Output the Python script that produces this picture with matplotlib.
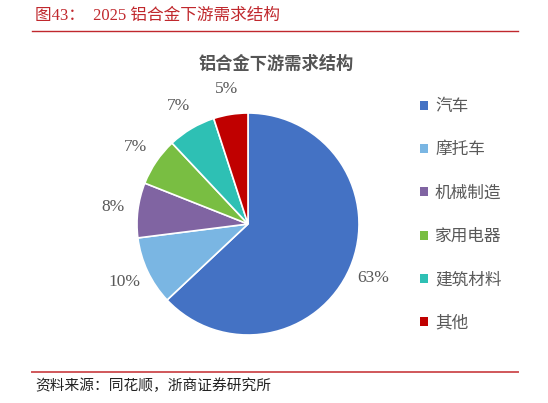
import matplotlib
matplotlib.use("Agg")
import matplotlib.pyplot as plt
from matplotlib.patches import Patch
from matplotlib.lines import Line2D

categories = ["汽车", "摩托车", "机械制造", "家用电器", "建筑材料", "其他"]
values = [63, 10, 8, 7, 7, 5]
colors = ["#4472C4", "#7AB6E3", "#8064A2", "#79BE42", "#2EC0B4", "#C00000"]
fig_title = "图43：  2025 铝合金下游需求结构"
chart_title = "铝合金下游需求结构"
source = "资料来源：同花顺，浙商证券研究所"

cjk = ["Noto Sans CJK SC", "DejaVu Sans"]
serif = ["Liberation Serif", "Noto Sans CJK SC"]

fig = plt.figure(figsize=(5.48, 4.03), dpi=100)
W, H = 548, 403

def fx(px):
    return px / W

def fy(py):
    return 1 - py / H

# header / footer
fig.text(fx(35), fy(16), fig_title, color="#C0282D", fontsize=12,
         family=["Liberation Serif", "Noto Sans CJK SC"], va="center", ha="left")
fig.add_artist(Line2D([fx(32), fx(518)], [fy(31), fy(31)], color="#C0282D", lw=1.0))
fig.add_artist(Line2D([fx(32), fx(518)], [fy(372), fy(372)], color="#D0575A", lw=1.4))
fig.text(fx(35), fy(386), source, color="#222222", fontsize=10.6, family=cjk,
         va="center", ha="left")
fig.text(fx(276), fy(64), chart_title, color="#555555", fontsize=12.4, fontweight="bold",
         family=cjk, va="center", ha="center")

# pie
ax = fig.add_axes([fx(137), fy(335), 222 / W, 222 / H])
wedges, texts, autotexts = ax.pie(
    values, colors=colors, startangle=90, counterclock=False,
    autopct=lambda p: f"{p:.0f}%", pctdistance=1.23,
    wedgeprops=dict(edgecolor="white", linewidth=1.2),
    textprops=dict(fontsize=12.5, family=serif, color="#595959"))
ax.set_xlim(-1, 1)
ax.set_ylim(-1, 1)
ax.set_aspect("equal")

handles = [Patch(facecolor=c, edgecolor="none") for c in colors]
leg = fig.legend(handles, categories, loc="upper left",
                 bbox_to_anchor=(fx(420), fy(98)), frameon=False,
                 borderaxespad=0, borderpad=0, labelspacing=1.58,
                 handlelength=0.45, handleheight=0.45, handletextpad=0.45,
                 prop=dict(family=cjk, size=12))
for t in leg.get_texts():
    t.set_color("#595959")

fig.savefig("out.png", dpi=100)
